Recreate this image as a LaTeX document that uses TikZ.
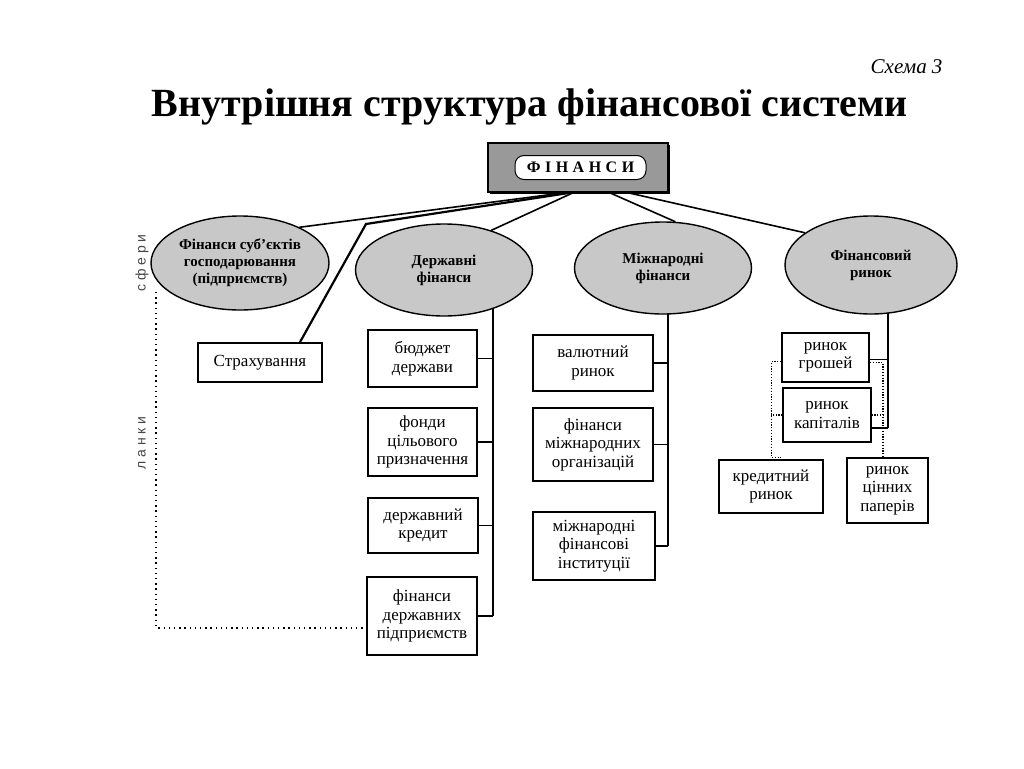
\documentclass[tikz,border=0pt]{standalone}
\usepackage{fontspec}
\setmainfont{Liberation Serif}
\newfontfamily\sansf{Liberation Sans}
\usetikzlibrary{shapes.geometric,calc,backgrounds}
\definecolor{ellfill}{RGB}{200,200,200}
\definecolor{boxgray}{RGB}{153,153,153}
\definecolor{labgray}{RGB}{70,70,70}
\begin{document}
\begin{tikzpicture}[x=1pt,y=-1pt,
  ell/.style={ellipse,draw=black,line width=1.4pt,fill=ellfill,inner sep=0pt,align=center,
    font=\fontsize{15}{17}\selectfont\bfseries},
  box/.style={draw=black,line width=1.8pt,fill=white,align=center,inner sep=0pt,
    font=\fontsize{17}{18.5}\selectfont},
  thinbox/.style={box,line width=1.1pt},
  conn/.style={line width=1.6pt},
  dots/.style={line width=1.8pt,dash pattern=on 1.4pt off 3.8pt},
  fdots/.style={line width=1.2pt,dash pattern=on 1.2pt off 1.6pt},
  side/.style={rotate=90,font=\sansf\fontsize{14}{16}\selectfont,text=labgray},
]
\useasboundingbox (0,0) rectangle (1024,768);

% titles
\node[anchor=base east,font=\fontsize{21}{24}\selectfont\itshape] (schema) at (946,74) {Схема 3};
\node[anchor=base,font=\fontsize{40}{46}\selectfont\bfseries] (title) at (530,116) {Внутрішня структура фінансової системи};

% top box
\node[fill=black,minimum width=180pt,minimum height=49pt,inner sep=0pt] (finsh) at (579.5,169) {};
\node[draw=black,line width=1.2pt,fill=boxgray,minimum width=180pt,minimum height=49pt,inner sep=0pt] (fin) at (578,167.5) {};
\node[draw=black,line width=1pt,fill=white,rounded corners=9pt,minimum width=131pt,minimum height=24pt,inner sep=0pt,
  font=\fontsize{16}{18}\selectfont\bfseries] (fint) at (580.5,167.5) {Ф\hspace{4.5pt}І\hspace{4.5pt}Н\hspace{4.5pt}А\hspace{4.5pt}Н\hspace{4.5pt}С\hspace{4.5pt}И};

% ellipses
\node[ell,minimum width=178pt,minimum height=94pt] (e1) at (240,263) {Фінанси суб’єктів\\господарювання\\(підприємств)};
\node[ell,minimum width=177pt,minimum height=92pt] (e2) at (444,270) {Державні\\фінанси};
\node[ell,minimum width=177pt,minimum height=92pt] (e3) at (663,268) {Міжнародні\\фінанси};
\node[ell,minimum width=172pt,minimum height=98pt] (e4) at (871,265) {Фінансовий\\ринок};

% side labels
\node[side] (sfery) at (142,263) {с ф е р и};
\node[side] (lanky) at (142,443) {л а н к и};

% boxes
\node[box,minimum width=124pt,minimum height=39pt] (strah) at (260,362.5) {Страхування};

\node[box,minimum width=109pt,minimum height=57pt] (b1) at (422.5,358.5) {бюджет\\держави};
\node[box,minimum width=109pt,minimum height=68pt] (b2) at (422.5,442) {фонди\\цільового\\призначення};
\node[box,minimum width=110pt,minimum height=55pt] (b3) at (423,525.5) {державний\\кредит};
\node[box,minimum width=110pt,minimum height=78pt] (b4) at (422,616) {фінанси\\державних\\підприємств};

\node[box,minimum width=120pt,minimum height=56pt] (c1) at (593,363) {валютний\\ринок};
\node[thinbox,minimum width=120pt,minimum height=73pt] (c2) at (593,444.5) {фінанси\\міжнародних\\організацій};
\node[box,minimum width=122pt,minimum height=68pt] (c3) at (594,546) {міжнародні\\фінансові\\інституції};

\node[box,minimum width=87pt,minimum height=49pt] (d1) at (825.5,357.5) {ринок\\грошей};
\node[thinbox,minimum width=88pt,minimum height=54pt] (d2) at (827,415) {ринок\\капіталів};
\node[box,minimum width=104pt,minimum height=53pt] (d3) at (771,486.5) {кредитний\\ринок};
\node[box,minimum width=81pt,minimum height=65pt] (d4) at (887.5,490.5) {ринок\\цінних\\паперів};

% trunks (behind ellipses)
\coordinate (t2) at (493,0);
\coordinate (t3) at (668,0);
\coordinate (t4) at (888,0);
\coordinate (d1c) at ($(d1.east)+(0,2)$);
\coordinate (d2c) at ($(d2.east)+(0,13)$);
\begin{pgfonlayer}{background}
  \draw[conn] (e2.center -| t2) -- (b4.east -| t2);
  \draw[conn] (e3.center -| t3) -- (c3.east -| t3);
  \draw[conn] (e4.center -| t4) -- (d2c -| t4);
\end{pgfonlayer}
\foreach \b in {b1,b2,b3,b4} \draw[conn] (\b.east) -- (\b.east -| t2);
\foreach \c in {c1,c2,c3} \draw[conn] (\c.east) -- (\c.east -| t3);
\draw[conn] (d1c) -- (d1c -| t4);
\draw[conn] (d2c) -- (d2c -| t4);

% connectors from top box
\coordinate (bend) at (366,224);
\coordinate (strtop) at ($(strah.north)+(40,0)$);
\draw[conn] ($(fin.south west)+(78,0)$) -- (e1.31);
\draw[conn,line width=2.2pt] ($(fin.south west)+(84,0)$) -- (bend) -- (strtop);
\draw[conn] ($(fin.south west)+(86,0)$) -- (e2.40);
\draw[conn] ($(fin.south west)+(122,0)$) -- (e3.75);
\draw[conn] ($(fin.south west)+(140,0)$) -- (e4.154);

% dotted: spheres / links frame
\coordinate (dtop) at ($(e1.west)+(6,29)$);
\coordinate (dbot) at ($(b4.west)+(0,12)$);
\draw[dots] (dtop) -- (dtop |- dbot) -- (dbot);

% dotted: financial market links
\coordinate (dl) at ($(d1.west)+(-10,4)$);
\coordinate (d3t) at ($(d3.north west)+(63,-2)$);
\draw[fdots] ($(d1.west)+(0,4)$) -- (dl) -- (dl |- d3t) -- (d3t);
\draw[fdots] (d2.west) -- (d2.west -| dl);
\coordinate (dr) at ($(d1.east)+(13,5)$);
\draw[fdots] ($(d1.east)+(0,5)$) -- (dr) -- (dr |- d4.north);
\draw[fdots] (d2.east) -- (d2.east -| dr);
\end{tikzpicture}
\end{document}
